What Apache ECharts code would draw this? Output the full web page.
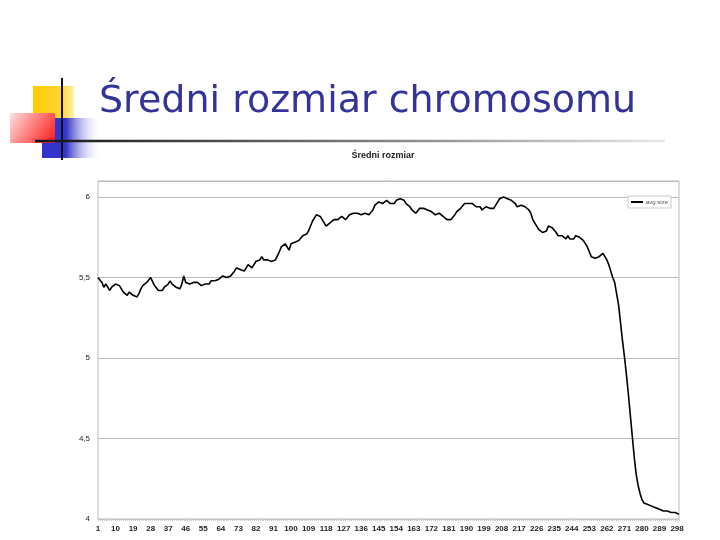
<!DOCTYPE html>
<html><head><meta charset="utf-8">
<script src="https://cdn.jsdelivr.net/npm/echarts@6/dist/echarts.min.js"></script>
<style>html,body{margin:0;padding:0;background:#fff}#c{width:720px;height:540px}</style>
</head><body><div id="c"></div>
<script>
const slideTitle = 'Średni rozmiar chromosomu';
const chartTitle = 'Średni rozmiar';
const seriesName = 'avg size';
const categoryCount = 299;
const categories = [];
for (let i = 1; i <= categoryCount; i++) categories.push(String(i));
const avgSize = [
5.50,5.51,5.47,5.44,5.46,5.47,5.42,5.44,5.45,5.46,
5.47,5.45,5.43,5.41,5.40,5.39,5.41,5.40,5.39,5.39,
5.38,5.40,5.43,5.45,5.46,5.47,5.48,5.50,5.51,5.45,
5.44,5.42,5.41,5.42,5.44,5.45,5.46,5.48,5.46,5.45,
5.44,5.45,5.43,5.46,5.51,5.47,5.48,5.46,5.46,5.47,
5.48,5.47,5.46,5.45,5.44,5.46,5.47,5.46,5.48,5.48,
5.48,5.49,5.49,5.50,5.51,5.52,5.50,5.49,5.51,5.52,
5.54,5.56,5.56,5.55,5.54,5.54,5.56,5.58,5.57,5.56,
5.58,5.60,5.60,5.61,5.63,5.61,5.60,5.61,5.62,5.60,
5.59,5.61,5.62,5.66,5.69,5.70,5.71,5.70,5.67,5.71,
5.71,5.72,5.72,5.73,5.74,5.76,5.77,5.77,5.79,5.82,
5.85,5.87,5.89,5.88,5.88,5.86,5.84,5.82,5.83,5.84,
5.85,5.86,5.87,5.86,5.86,5.88,5.87,5.86,5.87,5.89,
5.90,5.90,5.91,5.90,5.90,5.89,5.89,5.90,5.90,5.89,
5.88,5.92,5.95,5.96,5.97,5.96,5.96,5.97,5.98,5.97,
5.96,5.96,5.96,5.98,5.99,5.99,6.00,5.98,5.96,5.95,
5.94,5.92,5.91,5.90,5.91,5.93,5.92,5.93,5.92,5.92,
5.91,5.91,5.90,5.89,5.90,5.90,5.89,5.88,5.87,5.86,
5.86,5.86,5.87,5.89,5.91,5.92,5.93,5.94,5.96,5.97,
5.96,5.96,5.96,5.96,5.94,5.95,5.94,5.92,5.93,5.94,
5.95,5.93,5.92,5.93,5.94,5.97,5.99,6.00,6.00,5.99,
5.99,5.98,5.98,5.99,5.96,5.94,5.95,5.95,5.94,5.94,
5.93,5.92,5.90,5.86,5.84,5.82,5.80,5.79,5.78,5.78,
5.79,5.82,5.82,5.81,5.80,5.78,5.76,5.75,5.76,5.75,
5.74,5.76,5.74,5.73,5.74,5.76,5.76,5.75,5.75,5.73,
5.71,5.69,5.66,5.63,5.63,5.62,5.63,5.63,5.64,5.65,
5.63,5.61,5.58,5.54,5.50,5.47,5.40,5.33,5.22,5.11,
5.01,4.90,4.78,4.65,4.52,4.39,4.28,4.21,4.16,4.12,
4.10,4.09,4.09,4.08,4.08,4.07,4.07,4.06,4.06,4.06,
4.05,4.05,4.05,4.05,4.04,4.04,4.04,4.04,4.03
];
const yMin = 4, yMax = 6.1, yStep = 0.5;

const chart = echarts.init(document.getElementById('c'), null, {renderer: 'canvas'});
chart.setOption({
  backgroundColor: '#ffffff',
  animation: false,
  title: [{
    text: chartTitle,
    left: 378, top: 146, textAlign: 'center',
    textStyle: {fontFamily: 'Liberation Sans', fontSize: 9, fontWeight: 'bold', color: '#222'}
  }],
  legend: {
    data: [seriesName],
    right: 49, top: 196,
    backgroundColor: '#fff',
    borderColor: '#ccc', borderWidth: 1, borderRadius: 0,
    padding: [3, 3, 3, 3],
    itemWidth: 12, itemHeight: 2, itemGap: 3,
    icon: 'rect',
    textStyle: {fontFamily: 'Liberation Sans', fontSize: 6, color: '#555', padding: [0,0,0,-2]}
  },
  grid: {left: 98, right: 41, top: 181, bottom: 21, show: true, borderColor: '#bbb', borderWidth: 1, containLabel: false},
  xAxis: {
    type: 'category', data: categories, boundaryGap: false,
    axisLine: {lineStyle: {color: '#bbb'}},
    axisTick: {show: true, interval: 0, length: 2, lineStyle: {color: '#ccc'}},
    axisLabel: {interval: 8, fontFamily: 'Liberation Sans', fontSize: 8, fontWeight: 'bold', color: '#222', margin: 6},
    splitLine: {show: false}
  },
  yAxis: {
    type: 'value', min: yMin, max: yMax, interval: yStep,
    axisLine: {show: false}, axisTick: {show: false},
    axisLabel: {
      fontFamily: 'Liberation Sans', fontSize: 8, color: '#222', margin: 8, showMaxLabel: false,
      formatter: v => (Math.abs(v - yMax) < 1e-6 ? '' : String(v).replace('.', ','))
    },
    splitLine: {lineStyle: {color: '#bbb', width: 1}}
  },
  series: [{
    name: seriesName, type: 'line', data: avgSize, showSymbol: false, symbol: 'none',
    lineStyle: {color: '#000', width: 1.6}, itemStyle: {color: '#000'}
  }],
  graphic: [
    {type: 'rect', shape: {x: 33, y: 86, width: 41, height: 40},
     style: {fill: new echarts.graphic.LinearGradient(0, 0, 1, 0, [{offset: 0, color: '#ffcc00'}, {offset: 0.7, color: '#ffd633'}, {offset: 1, color: '#fff0b0'}])}},
    {type: 'rect', shape: {x: 42, y: 118, width: 60, height: 40},
     style: {fill: new echarts.graphic.LinearGradient(0, 0, 1, 0, [{offset: 0, color: '#3333cc'}, {offset: 0.4, color: '#3535cc'}, {offset: 1, color: 'rgba(255,255,255,0)'}])}},
    {type: 'rect', shape: {x: 10, y: 113, width: 45, height: 30},
     style: {fill: new echarts.graphic.LinearGradient(0, 0, 1, 1, [{offset: 0, color: '#ffe0e0'}, {offset: 0.6, color: '#ff6666'}, {offset: 1, color: '#ff1a1a'}])}},
    {type: 'line', shape: {x1: 62, y1: 78, x2: 62, y2: 160}, style: {stroke: '#111', lineWidth: 2}},
    {type: 'line', shape: {x1: 35, y1: 141, x2: 665, y2: 141},
     style: {stroke: new echarts.graphic.LinearGradient(0, 0, 1, 0, [{offset: 0, color: '#111'}, {offset: 0.5, color: '#777'}, {offset: 1, color: '#e8e8e8'}]), lineWidth: 2.5}},
    {type: 'text', x: 99, y: 121,
     style: {text: slideTitle, fill: '#333399', font: '38px "DejaVu Sans"', textVerticalAlign: 'bottom', verticalAlign: 'bottom'}}
  ]
});
</script></body></html>
